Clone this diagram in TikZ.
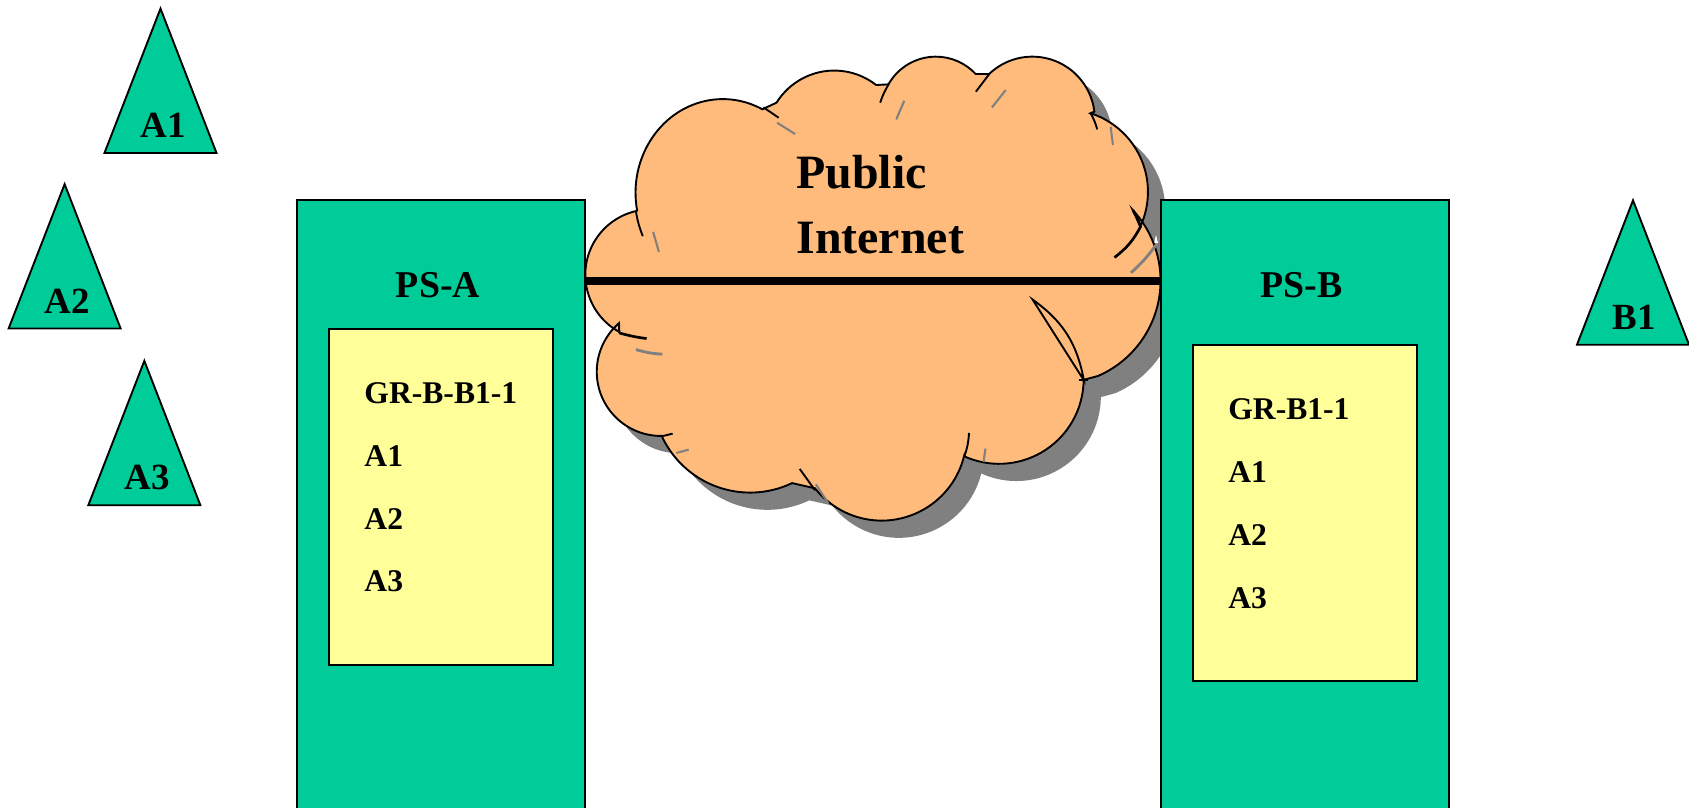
\documentclass[tikz,border=0pt]{standalone}
\usepackage{fontspec}
\setmainfont{Liberation Serif}
\definecolor{psgreen}{HTML}{00CC99}
\definecolor{gryellow}{HTML}{FFFF99}
\definecolor{netorange}{HTML}{FFBB7C}
\definecolor{netshadow}{HTML}{808080}
\newcommand{\cloudpath}{
([shift={(118.6:60.6)}]604,255) arc[start angle=118.6,end angle=257,radius=60.6]
-- ([shift={(169:81 and 87)}]671,179) arc[start angle=169,end angle=297,x radius=81,y radius=87]
-- ([shift={(211.9:63.1)}]774.5,128.6) arc[start angle=211.9,end angle=308.1,radius=63.1]
-- ([shift={(209.4:50.5)}]868.8,103.1) arc[start angle=209.4,end angle=317.1,radius=50.5]
-- ([shift={(226.3:58)}]958.4,110.6) arc[start angle=226.3,end angle=353.1,radius=58]
-- ([shift={(287.7:76.6)}]989.1,178.1) arc[start angle=287.7,end angle=384.9,radius=76.6]
-- ([shift={(317:96.4)}]981,260.6) arc[start angle=317,end angle=426.5,radius=96.4]
-- ([shift={(0.4:78.5)}]927.5,352.1) arc[start angle=0.4,end angle=114.4,radius=78.5]
-- ([shift={(13.8:78.8)}]818.5,404.5) arc[start angle=13.8,end angle=141.7,radius=78.8]
-- ([shift={(64.5:90.4)}]696.4,366.9) arc[start angle=64.5,end angle=154.9,radius=90.4]
-- ([shift={(89.1:59.6)}]613.6,345.1) arc[start angle=89.1,end angle=229.2,radius=59.6]
-- cycle
}

\begin{document}
\begin{tikzpicture}[x=0.02cm,y=-0.02cm,
  hostbox/.style={draw=black,fill=psgreen,line width=1pt,line join=miter},
  hostlabel/.style={anchor=base west,inner sep=0pt,font=\fontsize{19.5}{19.5}\selectfont\bfseries},
  psbox/.style={rectangle,draw=black,fill=psgreen,line width=1pt,inner sep=0pt,minimum height=11.68cm},
  grbox/.style={rectangle,draw=black,fill=gryellow,line width=1pt,inner sep=0pt,minimum width=4.16cm,minimum height=6.24cm},
  pslabel/.style={anchor=base west,inner sep=0pt,font=\fontsize{20}{20}\selectfont\bfseries},
  grlabel/.style={anchor=base west,inner sep=0pt,font=\fontsize{16.7}{16.7}\selectfont\bfseries},
  netlabel/.style={anchor=base west,inner sep=0pt,font=\fontsize{25.3}{25.3}\selectfont\bfseries},
  netwire/.style={draw=black,line width=4.2pt},
  crease/.style={draw=black,line width=1pt},
  faint/.style={draw=netshadow,line width=1.1pt}]
\useasboundingbox (0,0) rectangle (1568,750);
\clip (0,0) rectangle (1568,750);

%Cloud shadow
\fill[netshadow,shift={(16,16)}] \cloudpath;
\fill[white] (1073.2,218.2) -- (1071.4,225.6) -- (1075,225.6) -- cycle;

%Hosts
\draw[hostbox] (149,8) -- (97,142) -- (201,142) -- cycle;
\draw[hostbox] (60,171) -- (8,305) -- (112,305) -- cycle;
\draw[hostbox] (134,335) -- (82,469) -- (186,469) -- cycle;
\draw[hostbox] (1516,186) -- (1464,320) -- (1568,320) -- cycle;
\node at (130,128)[hostlabel] (ha1) {A1} ;
\node at (41,291.5)[hostlabel] (ha2) {A2} ;
\node at (115.5,454.5)[hostlabel] (ha3) {A3} ;
\node at (1497,306)[hostlabel] (hb1) {B1} ;

%Servers
\node at (409.3,478)[psbox,minimum width=5.36cm] (psa) {} ;
\node at (1211.5,478)[psbox,minimum width=5.34cm] (psb) {} ;
\node at (367.2,276)[pslabel] (namea) {PS-A} ;
\node at (1170,276)[pslabel] (nameb) {PS-B} ;

%Cloud
\filldraw[fill=netorange,draw=black,line width=1pt] \cloudpath;
\begin{scope}[shift={(529.2,27.85)},x=0.007106cm,y=-0.006188cm]
%Creases
\draw[crease] (172,543) to[bend right=6] (190,618);
\draw[crease] (505,232) -- (545,263);
\draw[crease] (832,163) to[bend right=6] (810,218);
\draw[crease] (1095,132) -- (1060,185);
\draw[crease] (1360,250) to[bend left=6] (1377,298);
\draw[crease,line width=1.4pt] (1470,540) to[bend left=8] (1490,590) to[bend left=12] (1422,682);
\draw[crease] (1208,808) to[bend left=22] (1342,1050) -- cycle;
\draw[crease] (1330,1050) -- (1352,1050);
\draw[crease] (1042,1208) to[bend left=8] (1030,1278);
\draw[crease] (600,1316) -- (640,1380);
\draw[crease] (240,1218) -- (268,1210);
\draw[crease] (128,880) -- (128,908);
\draw[crease,line width=1.4pt] (128,908) to[bend right=4] (200,925);
%Faint creases
\draw[faint] (217,605) -- (232,665);
\draw[faint] (541,278) -- (588,312);
\draw[faint] (873,212) -- (852,268);
\draw[faint] (1138,180) -- (1102,232);
\draw[faint] (1412,290) -- (1418,345);
\draw[faint,line width=1.5pt] (1530,645) to[bend left=6] (1465,728);
\draw[faint,line width=1.5pt] (172,958) to[bend right=6] (241,972);
\draw[faint] (278,1268) -- (310,1258);
\draw[faint] (642,1362) -- (675,1420);
\draw[faint] (1085,1255) -- (1080,1295);
\end{scope}
\node at (739,175)[netlabel] (netname) {Public} ;
\node at (739,235)[netlabel] (netnameb) {Internet} ;

%Link
\coordinate (linky) at (0,260.6);
\draw[netwire] (psa.east |- linky) -- (psb.west |- linky);

%Groups
\node at (409.3,461)[grbox] (gra) {} ;
\node at (1211.3,476)[grbox] (grb) {} ;
\node at (338,374.8)[grlabel] (ga0) {GR-B-B1-1} ;
\node at (338,433)[grlabel] (ga1) {A1} ;
\node at (338,491.5)[grlabel] (ga2) {A2} ;
\node at (338,549.5)[grlabel] (ga3) {A3} ;
\node at (1140,389.5)[grlabel] (gb0) {GR-B1-1} ;
\node at (1140,447.5)[grlabel] (gb1) {A1} ;
\node at (1140,506)[grlabel] (gb2) {A2} ;
\node at (1140,564.5)[grlabel] (gb3) {A3} ;
\end{tikzpicture}
\end{document}
